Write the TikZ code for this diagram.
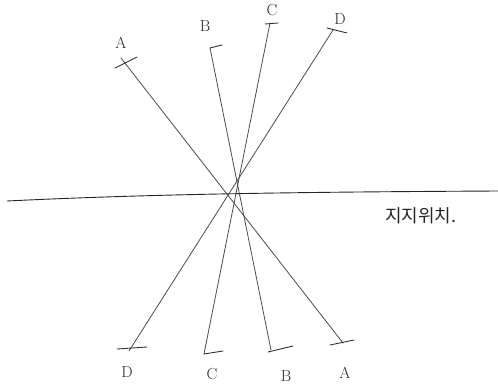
\documentclass[tikz,border=0pt]{standalone}
\usepackage{fontspec}
\newfontfamily\kr{Noto Sans CJK KR}
\begin{document}
\begin{tikzpicture}[x=1pt,y=-1pt,
  stroke/.style={draw=black!70, line width=0.8pt, line cap=round},
  tickmark/.style={draw=black!80, line width=0.9pt, line cap=round},
  lbl/.style={font=\fontsize{16}{16}\selectfont, text=black!85, inner sep=0pt}]
\useasboundingbox (0,0) rectangle (498,389);
% horizontal axis
\coordinate (h1) at (7,201);
\coordinate (h2) at (498,191);
\draw[draw=black!85, line width=0.9pt] (h1) .. controls (150,194) and (300,192) .. (h2);
% line endpoints
\coordinate (At) at (121,58);  \coordinate (Ab) at (343,343);
\coordinate (Bt) at (210,48);  \coordinate (Bb) at (271,350);
\coordinate (Ct) at (270,23);  \coordinate (Cb) at (204,354);
\coordinate (Dt) at (333,30);  \coordinate (Db) at (129,351);
\draw[stroke] (At) -- (Ab);
\draw[stroke] (Bt) -- (Bb);
\draw[stroke] (Ct) -- (Cb);
\draw[stroke] (Dt) -- (Db);
% ticks
\coordinate (ta1) at (115,68); \coordinate (ta2) at (137,57);
\coordinate (ta3) at (330,345); \coordinate (ta4) at (354,340);
\coordinate (tb1) at (210,48); \coordinate (tb2) at (222,45);
\coordinate (tb3) at (268,352); \coordinate (tb4) at (293,346);
\coordinate (tc1) at (265,24); \coordinate (tc2) at (278,23);
\coordinate (tc3) at (204,354); \coordinate (tc4) at (223,351);
\coordinate (td1) at (327,28); \coordinate (td2) at (347,33);
\coordinate (td3) at (117,349); \coordinate (td4) at (147,347);
\draw[tickmark] (ta1) -- (ta2);
\draw[tickmark] (ta3) -- (ta4);
\draw[tickmark] (tb1) -- (tb2);
\draw[tickmark] (tb3) -- (tb4);
\draw[tickmark] (tc1) -- (tc2);
\draw[tickmark] (tc3) -- (tc4);
\draw[tickmark] (td1) -- (td2);
\draw[tickmark] (td3) -- (td4);
% labels
\node[lbl] (lAt) at (121,43) {A};
\node[lbl] (lBt) at (205,26) {B};
\node[lbl] (lCt) at (272,10) {C};
\node[lbl] (lDt) at (340,19) {D};
\node[lbl] (lDb) at (127,372) {D};
\node[lbl] (lCb) at (212,374) {C};
\node[lbl] (lBb) at (286,376) {B};
\node[lbl] (lAb) at (345,373) {A};
\node[font=\kr\fontsize{18}{18}\selectfont, text=black!85, inner sep=0pt, anchor=west] (kor) at (385,216) {지지위치.};
\end{tikzpicture}
\end{document}
